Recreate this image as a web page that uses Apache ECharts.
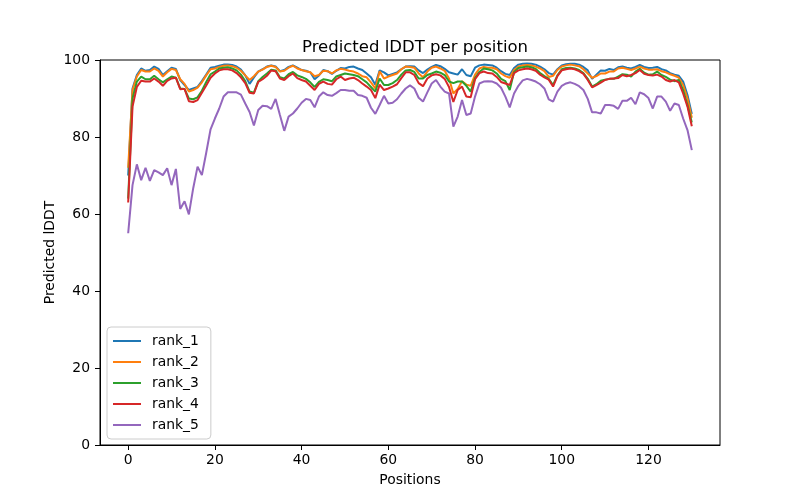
<!DOCTYPE html>
<html>
<head>
<meta charset="utf-8">
<script src="https://cdn.jsdelivr.net/npm/echarts@6/dist/echarts.min.js"></script>
<style>html,body{margin:0;padding:0;background:#fff}#c{width:800px;height:500px}</style>
</head>
<body>
<div id="c"></div>
<script>
const seriesNames = ['rank_1', 'rank_2', 'rank_3', 'rank_4', 'rank_5'];
const colors = ['#1f77b4', '#ff7f0e', '#2ca02c', '#d62728', '#9467bd'];
const xTicks = [0, 20, 40, 60, 80, 100, 120];
const yTicks = [0, 20, 40, 60, 80, 100];

const rank1 = [
70, 92.6, 96.1, 97.8, 97.2, 97.4, 98.3, 97.7, 96.1, 97.1,
98, 97.7, 94.8, 93.5, 92.2, 92.6, 93, 94.5, 96.2, 98,
98.2, 98.5, 98.8, 98.8, 98.7, 98.3, 97.5, 96, 93.8, 95.5,
97, 97.6, 98.3, 98.6, 98.3, 97.1, 97.4, 98.2, 98.6, 98,
97.4, 97.2, 96.8, 95, 96, 97.4, 97.1, 96.4, 97.2, 97.9,
97.8, 98.2, 98.3, 97.8, 97.4, 96.5, 95.5, 93.6, 97.3, 96.8,
96, 96.4, 96.8, 97.6, 98.3, 98.4, 98.3, 97.3, 96.6, 97.5,
98.2, 98.7, 98.4, 97.7, 96.8, 96.5, 96.2, 97.6, 96.1, 95.8,
98, 98.6, 98.8, 98.7, 98.6, 98, 97.1, 96.4, 96.1, 97.9,
98.8, 99, 99.1, 99, 98.8, 98.3, 97.6, 96.6, 96.2, 97.6,
98.6, 98.9, 99, 99, 98.8, 98.2, 97.3, 95.1, 96.2, 97.3,
97.2, 97.7, 97.4, 98.1, 98.3, 98, 97.8, 98.2, 98.7, 98.2,
97.9, 98, 98.2, 97.6, 97.3, 96.6, 96.2, 95.9, 94.4, 90.9,
86
];
const rank2 = [
72, 92.2, 95.7, 97.4, 97, 97, 97.8, 97.2, 95.7, 96.8,
97.7, 97.4, 95, 93.8, 91.8, 92.2, 92.8, 94.2, 96, 97.6,
97.8, 98.2, 98.5, 98.6, 98.4, 98, 97.2, 96, 94.8, 95.8,
97, 97.5, 98.2, 98.5, 98.2, 97, 97.2, 98, 98.5, 97.8,
97.4, 97.1, 96.8, 95.8, 96.1, 97.2, 97.1, 96.5, 97.3, 97.7,
97.5, 97.2, 97, 96.5, 95.8, 95.5, 94.2, 92.6, 97.1, 95.2,
95.7, 96.1, 96.5, 97.6, 98.3, 98.2, 98, 96.5, 95.5, 97,
98, 98.3, 97.8, 97.2, 95.2, 91.3, 92.5, 94.5, 93.6, 93.3,
96.2, 97.8, 98.2, 98, 98, 97.6, 96.5, 95.8, 95.4, 97.4,
98.3, 98.6, 98.7, 98.6, 98.3, 97.8, 97.1, 95.6, 95.9, 97.4,
98.3, 98.6, 98.8, 98.6, 98.4, 97.6, 96.5, 95.4, 95.8, 96.5,
96.5, 97, 97, 97.8, 98, 97.7, 97.4, 97.8, 98.3, 97.8,
97.5, 97.5, 97.6, 97.1, 96.8, 96.3, 95.9, 95.4, 93.5, 90,
85
];
const rank3 = [
64, 90, 94.4, 95.7, 95, 95, 95.9, 95, 94.2, 95,
95.7, 95.4, 92.6, 92.5, 90, 89.8, 90.3, 92, 94.3, 96.3,
97, 97.8, 98, 98.1, 97.8, 97.3, 96.2, 94.5, 91.8, 91.5,
94.5, 95.6, 96.5, 97.5, 97.3, 95.5, 95.2, 96.3, 96.9, 96,
95.6, 95.1, 94.2, 93, 94.3, 95, 94.8, 94.5, 95.7, 96.1,
96.5, 96.3, 96.1, 95.8, 95, 94.2, 93, 91.8, 95.2, 93.5,
93.5, 94, 94.8, 96.2, 97.3, 97.4, 96.9, 95.2, 95.2, 96.1,
96.5, 97, 96.7, 96.1, 94.4, 94, 94.4, 94.4, 93.3, 91.8,
95.3, 96.9, 97.8, 97.6, 97.3, 96.5, 95.1, 94.5, 92.2, 96.9,
97.9, 98.1, 98.3, 98.1, 97.7, 96.6, 95.8, 95.1, 93.5, 96,
97.6, 97.9, 98, 97.8, 97.4, 96.6, 95.1, 93.1, 93.7, 94.6,
94.9, 95.1, 95.1, 95.7, 96.3, 96.2, 95.7, 97, 97.7, 96.7,
96.2, 96.3, 97, 96.1, 95.6, 94.9, 94.5, 94.8, 92.2, 88.3,
83.8
];
const rank4 = [
63, 87.9, 93, 94.6, 94.4, 94.4, 95.2, 94.4, 93.3, 94.6,
95.2, 95.4, 92.4, 92.5, 89.3, 89.1, 89.6, 91.5, 93.4, 95.4,
96.5, 97.3, 97.6, 97.6, 97.3, 96.6, 95.5, 94, 91.5, 91.3,
94.3, 95, 95.9, 97.3, 97.1, 95.2, 94.8, 95.8, 96.5, 95.3,
94.8, 94.4, 93.3, 92.2, 93.8, 94.4, 93.8, 93.6, 95, 95.7,
94.8, 95.2, 95.4, 94.8, 93.9, 93.1, 92.2, 90.1, 93.6, 92.2,
92.6, 93.1, 93.7, 95.3, 96.8, 96.8, 96.1, 94, 93.2, 95.2,
96, 96.3, 96, 95.1, 93, 89.1, 92.2, 93.1, 90.5, 90.3,
95, 96.6, 97, 96.6, 96.5, 95.6, 94.3, 93.9, 93.5, 96.6,
97.3, 97.6, 97.8, 97.6, 97.2, 96.2, 95.5, 94.9, 93.1, 95.8,
97.3, 97.6, 97.8, 97.6, 97.1, 96.4, 94.8, 92.9, 93.5, 94.1,
94.8, 95.1, 95.2, 95.3, 96.1, 95.8, 96.1, 96.6, 97.4, 96.4,
96.1, 96, 96.2, 95.7, 94.8, 94.4, 94.8, 94.2, 91.3, 87.9,
82.8
];
const rank5 = [
55, 67.5, 72.9, 68.8, 72, 68.6, 71.4, 70.8, 70.1, 71.9,
67.5, 71.7, 61.3, 63.3, 59.9, 66.7, 72.3, 70.1, 75.9, 82,
84.8, 87.4, 90.5, 91.6, 91.6, 91.6, 91, 88.7, 86.5, 83,
87, 88.1, 88, 87.3, 89.9, 85.7, 81.6, 85.3, 86.1, 87.4,
88.9, 89.9, 89.6, 87.7, 90.5, 91.6, 90.9, 90.7, 91.4, 92.2,
92.2, 92, 92, 90.9, 90.7, 90.2, 87.6, 86, 88.3, 90.7,
88.7, 88.9, 89.8, 91.3, 92.6, 93.4, 92.6, 90.2, 89.2, 91.6,
93.9, 94.8, 93.1, 91.8, 91.3, 82.7, 85.3, 89.6, 85.7, 86.1,
90.5, 93.9, 94.4, 94.5, 94.4, 93.9, 92.8, 90.5, 87.7, 91.3,
93.3, 94.7, 95.1, 94.8, 94.4, 93.7, 92.6, 89.8, 89.2, 91.8,
93.3, 93.9, 94.2, 93.8, 93.2, 92.2, 89.9, 86.4, 86.4, 86.1,
88.3, 88.3, 88.1, 87.3, 89.4, 89.4, 90.2, 88.5, 91.6, 91.1,
90.1, 87.4, 90.5, 90.5, 89.2, 86.8, 88.7, 88.3, 84.8, 81.8,
76.6
];

const allSeries = [rank1, rank2, rank3, rank4, rank5];
const FONT = 'DejaVu Sans';

const chart = echarts.init(document.getElementById('c'), null, {renderer: 'canvas'});
chart.setOption({
  animation: false,
  backgroundColor: '#fff',
  textStyle: {fontFamily: FONT, color: '#000'},
  title: {
    text: 'Predicted lDDT per position',
    left: 410, top: 34, textAlign: 'center',
    textStyle: {fontFamily: FONT, fontSize: 16.5, fontWeight: 'normal', color: '#000'}
  },
  grid: {left: 100, right: 80, top: 60, bottom: 55, show: true, borderColor: '#000', borderWidth: 1, backgroundColor: 'transparent'},
  legend: {
    orient: 'vertical', left: 107, top: 327,
    padding: [6, 12, 6, 6], itemGap: 5, itemWidth: 28, itemHeight: 2, icon: 'rect',
    backgroundColor: '#fff', borderColor: '#cccccc', borderWidth: 1, borderRadius: 4,
    textStyle: {fontFamily: FONT, fontSize: 13.9, color: '#000', lineHeight: 16, padding: [0, 0, 0, 6]},
    data: seriesNames
  },
  xAxis: {
    type: 'value', min: -6.5, max: 136.5,
    name: 'Positions', nameLocation: 'middle', nameGap: 28,
    nameTextStyle: {fontFamily: FONT, fontSize: 13.9, color: '#000'},
    axisLine: {show: true, onZero: false, lineStyle: {color: '#000', width: 1}},
    axisTick: {show: true, inside: false, length: 5, customValues: xTicks, lineStyle: {color: '#000'}},
    axisLabel: {show: true, margin: 8, customValues: xTicks, fontFamily: FONT, fontSize: 13.9, color: '#000'},
    splitLine: {show: false}
  },
  yAxis: {
    type: 'value', min: 0, max: 100, interval: 20,
    name: 'Predicted lDDT', nameLocation: 'middle', nameGap: 43, nameMoveOverlap: false,
    nameTextStyle: {fontFamily: FONT, fontSize: 13.9, color: '#000'},
    axisLine: {show: true, onZero: false, lineStyle: {color: '#000', width: 1}},
    axisTick: {show: true, inside: false, length: 5, customValues: yTicks, lineStyle: {color: '#000'}},
    axisLabel: {show: true, margin: 10, customValues: yTicks, fontFamily: FONT, fontSize: 13.9, color: '#000'},
    splitLine: {show: false}
  },
  series: allSeries.map((vals, k) => ({
    name: seriesNames[k],
    type: 'line',
    data: vals.map((v, i) => [i, v]),
    showSymbol: false,
    symbol: 'none',
    lineStyle: {color: colors[k], width: 2},
    itemStyle: {color: colors[k]},
    z: 2 + k
  }))
});
</script>
</body>
</html>
